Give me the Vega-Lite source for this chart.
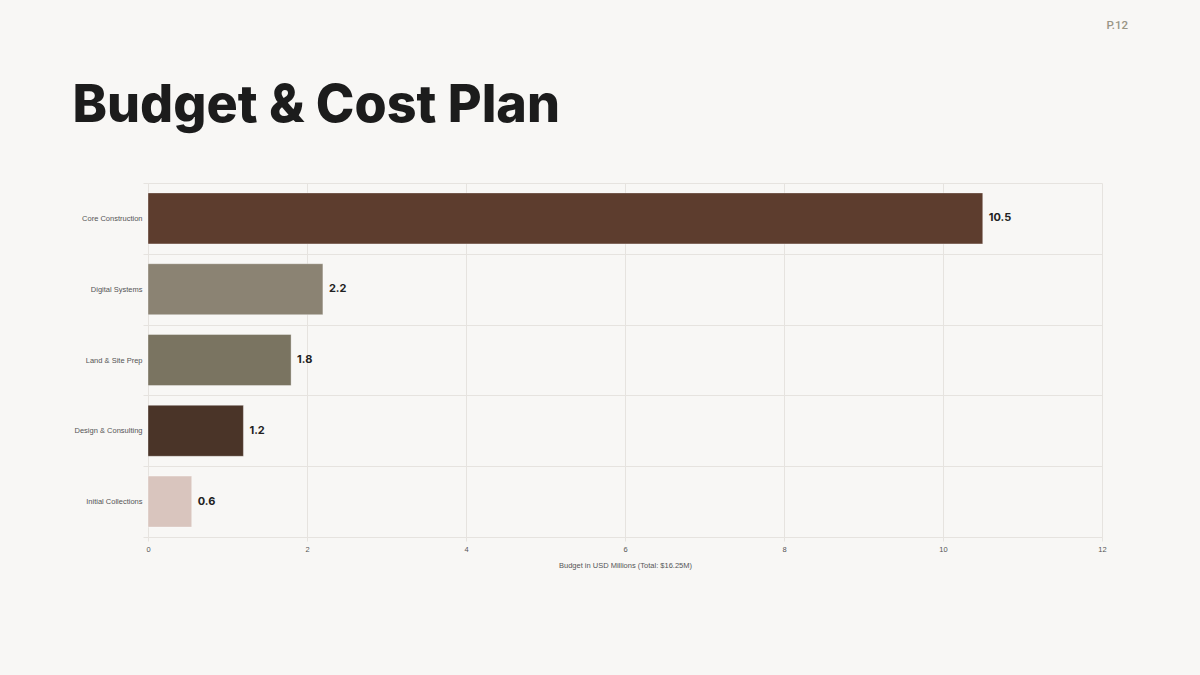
{
  "$schema": "https://vega.github.io/schema/vega-lite/v6.json",
  "autosize": "none",
  "width": 954,
  "height": 354,
  "padding": {"left": 148, "top": 183, "right": 98, "bottom": 138},
  "background": "#F8F7F5",
  "title": {
    "text": "P.12",
    "anchor": "end",
    "frame": "group",
    "dx": 26,
    "offset": 37,
    "baseline": "bottom",
    "font": "Roboto",
    "fontSize": 11.5,
    "fontWeight": 500,
    "color": "#9A9585"
  },
  "data": {
    "values": [
      {"category": "Core Construction", "budget": 10.5, "label": "10.5", "color": "#5D3D2E"},
      {"category": "Digital Systems", "budget": 2.2, "label": "2.2", "color": "#8B8373"},
      {"category": "Land & Site Prep", "budget": 1.8, "label": "1.8", "color": "#7A7461"},
      {"category": "Design & Consulting", "budget": 1.2, "label": "1.2", "color": "#4A3428"},
      {"category": "Initial Collections", "budget": 0.55, "label": "0.6", "color": "#D9C5BE"}
    ]
  },
  "encoding": {
    "y": {
      "field": "category",
      "type": "nominal",
      "sort": null,
      "scale": {"padding": 0},
      "axis": {
        "title": "Budget & Cost Plan",
        "titleAngle": 0,
        "titleX": -76,
        "titleY": -62,
        "titleAlign": "left",
        "titleBaseline": "alphabetic",
        "titleFont": "Inter",
        "titleFontSize": 52,
        "titleFontWeight": 800,
        "titleColor": "#1C1C1C",
        "tickBand": "extent",
        "grid": true,
        "gridColor": "#E6E3DF",
        "gridWidth": 1,
        "domain": false,
        "ticks": true,
        "tickColor": "#E6E3DF",
        "tickSize": 5,
        "labelFont": "Liberation Sans",
        "labelFontSize": 7.5,
        "labelColor": "#555555",
        "labelPadding": 1
      }
    }
  },
  "layer": [
    {
      "mark": {"type": "bar", "height": {"band": 0.72}, "stroke": "#FFFFFF", "strokeOpacity": 0.35, "strokeWidth": 1},
      "encoding": {
        "x": {
          "field": "budget",
          "type": "quantitative",
          "scale": {"domain": [0, 12], "nice": false},
          "axis": {
            "title": "Budget in USD Millions (Total: $16.25M)",
            "titleFont": "Liberation Sans",
            "titleFontSize": 7.5,
            "titleFontWeight": 400,
            "titleColor": "#555555",
            "titlePadding": 9,
            "values": [0, 2, 4, 6, 8, 10, 12],
            "format": "d",
            "labelFlush": false,
            "grid": true,
            "gridColor": "#E6E3DF",
            "domain": true,
            "domainColor": "#E6E3DF",
            "ticks": true,
            "tickColor": "#E6E3DF",
            "tickSize": 4,
            "labelFont": "Liberation Sans",
            "labelFontSize": 7.5,
            "labelColor": "#555555",
            "labelPadding": 4
          }
        },
        "color": {"field": "color", "type": "nominal", "scale": null, "legend": null}
      }
    },
    {
      "mark": {"type": "text", "align": "left", "baseline": "middle", "dx": 6, "font": "Inter", "fontSize": 11, "fontWeight": 700, "color": "#222222"},
      "encoding": {
        "x": {"field": "budget", "type": "quantitative"},
        "text": {"field": "label"}
      }
    }
  ],
  "config": {"view": {"stroke": null}}
}
